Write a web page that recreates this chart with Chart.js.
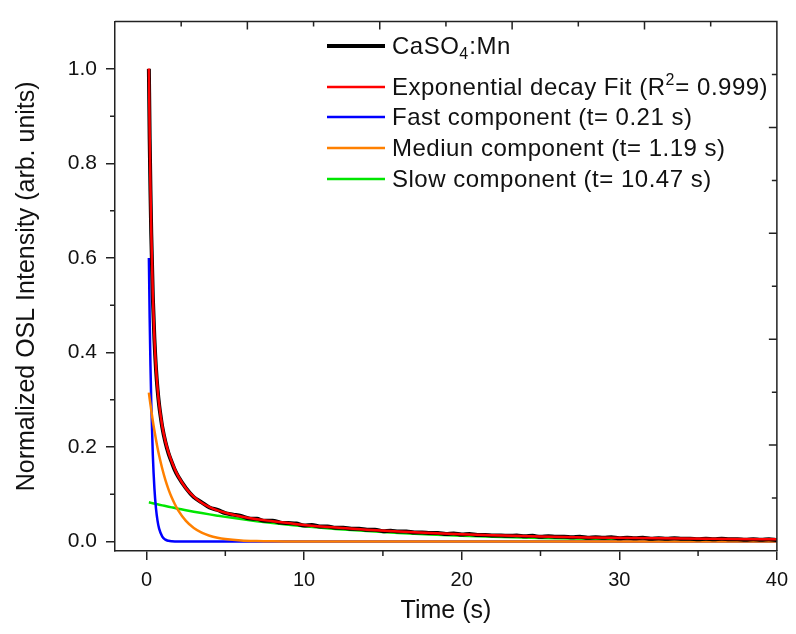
<!DOCTYPE html>
<html>
<head>
<meta charset="utf-8">
<title>CaSO4:Mn OSL decay</title>
<script src="https://cdn.jsdelivr.net/npm/chart.js@4.4.0/dist/chart.umd.min.js"></script>
<style>
  html, body { margin: 0; padding: 0; background: #fff; }
</style>
</head>
<body>
<canvas id="oslChart" width="796" height="634"></canvas>
<script>
// measured curve (normalized OSL, CaSO4:Mn)
var timeData = [0.15, 0.2, 0.25, 0.3, 0.4, 0.5, 0.6, 0.7, 0.8, 0.9, 1.0, 1.2, 1.4, 1.6, 1.8, 2.0,
  2.5, 3, 3.5, 4, 4.5, 5, 5.5, 6, 6.5, 7, 7.5, 8, 8.5, 9, 9.5, 10, 10.5, 11, 11.5, 12, 12.5, 13, 13.5, 14,
  14.5, 15, 15.5, 16, 16.5, 17, 17.5, 18, 18.5, 19, 19.5, 20, 20.5, 21, 21.5, 22, 22.5, 23, 23.5, 24, 24.5,
  25, 25.5, 26, 26.5, 27, 27.5, 28, 28.5, 29, 29.5, 30, 30.5, 31, 31.5, 32, 32.5, 33, 33.5, 34, 34.5, 35,
  35.5, 36, 36.5, 37, 37.5, 38, 38.5, 39, 39.5, 40];
var oslData = [1.0, 0.852, 0.743, 0.652, 0.518, 0.429, 0.366, 0.322, 0.289, 0.264, 0.242, 0.210, 0.186, 0.168, 0.151, 0.138,
  0.113, 0.094, 0.083, 0.072, 0.067, 0.060, 0.057, 0.054, 0.049, 0.048, 0.044, 0.044, 0.040, 0.039, 0.038, 0.034,
  0.035, 0.032, 0.032, 0.029, 0.029, 0.027, 0.027, 0.025, 0.025, 0.022, 0.023, 0.021, 0.021, 0.019, 0.019, 0.018,
  0.018, 0.016, 0.017, 0.015, 0.016, 0.014, 0.014, 0.013, 0.013, 0.012, 0.013, 0.011, 0.012, 0.010, 0.011, 0.010,
  0.010, 0.009, 0.010, 0.008, 0.009, 0.008, 0.009, 0.007, 0.008, 0.007, 0.008, 0.006, 0.007, 0.006, 0.007, 0.006,
  0.006, 0.005, 0.006, 0.005, 0.006, 0.005, 0.005, 0.004, 0.005, 0.004, 0.005, 0.003];

// fit and its three components
var timeFit = [0.15, 0.2, 0.25, 0.3, 0.4, 0.5, 0.6, 0.7, 0.8, 1.0, 1.2, 1.4, 1.6, 1.8, 2.0, 2.5, 3, 3.5, 4, 4.5, 5,
  6, 7, 8, 9, 10, 12, 14, 16, 18, 20, 22, 25, 28, 31, 34, 37, 40];
var fitValues = [1.001, 0.861, 0.748, 0.657, 0.522, 0.431, 0.369, 0.324, 0.290, 0.244, 0.212, 0.188, 0.169, 0.153, 0.139,
  0.113, 0.095, 0.082, 0.073, 0.066, 0.061, 0.053, 0.047, 0.043, 0.039, 0.035, 0.0297, 0.0251, 0.0212, 0.0181,
  0.0154, 0.0133, 0.0107, 0.0088, 0.0074, 0.0063, 0.0055, 0.0049];
var fastValues = [0.6, 0.473, 0.373, 0.294, 0.183, 0.113, 0.070, 0.0437, 0.0272, 0.0105, 0.004, 0.0016, 0.0006, 0.0002, 0.0001,
  0, 0, 0, 0, 0, 0, 0, 0, 0, 0, 0, 0, 0, 0, 0, 0, 0, 0, 0, 0, 0, 0, 0];
var mediumValues = [0.315, 0.302, 0.290, 0.278, 0.255, 0.235, 0.216, 0.198, 0.182, 0.154, 0.130, 0.110, 0.093, 0.0788, 0.0666,
  0.0437, 0.0287, 0.0189, 0.0124, 0.0082, 0.0054, 0.0023, 0.0010, 0.0004, 0.0002, 0.0001, 0, 0, 0, 0, 0, 0, 0, 0, 0, 0, 0, 0];
var slowValues = [0.083, 0.0826, 0.0822, 0.0818, 0.0810, 0.0803, 0.0795, 0.0788, 0.0780, 0.0765, 0.0751, 0.0737, 0.0723,
  0.0709, 0.0696, 0.0663, 0.0632, 0.0603, 0.0575, 0.0548, 0.0522, 0.0475, 0.0431, 0.0392, 0.0356, 0.0324, 0.0267,
  0.0221, 0.0182, 0.0151, 0.0124, 0.0103, 0.0077, 0.0058, 0.0044, 0.0033, 0.0025, 0.0019];

// legend labels (_x = subscript, ^x = superscript)
var seriesNames = ['CaSO_4:Mn', 'Exponential decay Fit (R^2= 0.999)', 'Fast component (t= 0.21 s)',
  'Mediun component (t= 1.19 s)', 'Slow component (t= 10.47 s)'];
var seriesColors = ['#000000', '#ff0000', '#0000ff', '#ff8000', '#00e600'];

var xTicks = [0, 10, 20, 30, 40];
var xMinorTicks = [5, 15, 25, 35];
var yTicks = [0, 0.2, 0.4, 0.6, 0.8, 1.0];
var yMinorTicks = [0.1, 0.3, 0.5, 0.7, 0.9];
var frameTicks = [1, 2, 3, 4, 5, 6, 7, 8, 9];

var FONT = '"Liberation Sans", Arial, Helvetica, sans-serif';
var AXIS = '#222';

function pts(xs, ys) {
  return xs.map(function (x, i) { return { x: x, y: ys[i] }; });
}

function drawRich(ctx, text, x, y, size) {
  var i = 0;
  while (i < text.length) {
    var ch = text[i];
    if ((ch === '_' || ch === '^') && i + 1 < text.length) {
      var s = text[i + 1];
      ctx.font = Math.round(size * 0.66) + 'px ' + FONT;
      var dy = ch === '_' ? size * 0.3 : -size * 0.32;
      ctx.fillText(s, x, y + dy);
      x += ctx.measureText(s).width + 0.5;
      i += 2;
      continue;
    }
    var j = i;
    while (j < text.length && text[j] !== '_' && text[j] !== '^') j++;
    var part = text.slice(i, j);
    ctx.font = size + 'px ' + FONT;
    ctx.fillText(part, x, y);
    x += ctx.measureText(part).width;
    i = j;
  }
}

var framePlugin = {
  id: 'frame',
  afterDraw: function (chart) {
    var ctx = chart.ctx, a = chart.chartArea;
    var xs = chart.scales.x, ys = chart.scales.y, xt = chart.scales.xTop, yr = chart.scales.yRight;
    ctx.save();
    ctx.strokeStyle = AXIS;
    ctx.lineWidth = 1.5;
    ctx.beginPath();
    ctx.moveTo(a.left, a.top);
    ctx.lineTo(a.right, a.top);
    ctx.lineTo(a.right, a.bottom);
    ctx.stroke();
    ctx.beginPath();
    xMinorTicks.forEach(function (v) {
      var px = xs.getPixelForValue(v);
      ctx.moveTo(px, a.bottom); ctx.lineTo(px, a.bottom + 5);
    });
    yMinorTicks.forEach(function (v) {
      var py = ys.getPixelForValue(v);
      ctx.moveTo(a.left - 5, py); ctx.lineTo(a.left, py);
    });
    frameTicks.forEach(function (k) {
      var len = k % 2 === 0 ? 8 : 5;
      var px = xt.getPixelForValue(k);
      ctx.moveTo(px, a.top); ctx.lineTo(px, a.top + len);
      var py = yr.getPixelForValue(k);
      ctx.moveTo(a.right - len, py); ctx.lineTo(a.right, py);
    });
    ctx.stroke();
    ctx.restore();
  }
};

var legendPlugin = {
  id: 'richLegend',
  afterDraw: function (chart) {
    var ctx = chart.ctx;
    var rowsY = [46, 87, 117, 148, 179];
    var widths = [4, 2.5, 2.5, 2.5, 2.5];
    ctx.save();
    ctx.textBaseline = 'middle';
    ctx.textAlign = 'left';
    ctx.letterSpacing = '0.5px';
    seriesNames.forEach(function (name, i) {
      ctx.strokeStyle = seriesColors[i];
      ctx.lineWidth = widths[i];
      ctx.beginPath();
      ctx.moveTo(327, rowsY[i]);
      ctx.lineTo(385, rowsY[i]);
      ctx.stroke();
      ctx.fillStyle = '#111';
      drawRich(ctx, name, 392, rowsY[i] + 1, 24);
    });
    ctx.restore();
  }
};

var ctx = document.getElementById('oslChart').getContext('2d');
var oslChart = new Chart(ctx, {
  type: 'line',
  data: {
    datasets: [
      { label: seriesNames[1], data: pts(timeFit, fitValues), borderColor: seriesColors[1], borderWidth: 2.5,
        cubicInterpolationMode: 'monotone', pointRadius: 0, order: 0 },
      { label: seriesNames[0], data: pts(timeData, oslData), borderColor: seriesColors[0], borderWidth: 4,
        cubicInterpolationMode: 'monotone', pointRadius: 0, order: 1 },
      { label: seriesNames[3], data: pts(timeFit, mediumValues), borderColor: seriesColors[3], borderWidth: 2.5,
        cubicInterpolationMode: 'monotone', pointRadius: 0, order: 2 },
      { label: seriesNames[2], data: pts(timeFit, fastValues), borderColor: seriesColors[2], borderWidth: 2.5,
        cubicInterpolationMode: 'monotone', pointRadius: 0, order: 3 },
      { label: seriesNames[4], data: pts(timeFit, slowValues), borderColor: seriesColors[4], borderWidth: 2.5,
        cubicInterpolationMode: 'monotone', pointRadius: 0, order: 4 }
    ]
  },
  options: {
    responsive: false,
    animation: false,
    devicePixelRatio: 1,
    layout: { padding: { top: 15, right: 16, left: 0, bottom: 0 } },
    plugins: { legend: { display: false }, tooltip: { enabled: false } },
    scales: {
      x: {
        type: 'linear', position: 'bottom', min: -2, max: 40,
        afterBuildTicks: function (s) { s.ticks = xTicks.map(function (v) { return { value: v }; }); },
        afterFit: function (s) { s.height = 83; },
        grid: { display: true, drawOnChartArea: false, drawTicks: true, tickLength: 9, color: AXIS, lineWidth: 1.5 },
        border: { display: true, color: AXIS, width: 1.5 },
        ticks: { color: '#111', padding: 8, font: { family: FONT, size: 20 }, maxRotation: 0 },
        title: { display: true, text: 'Time (s)', color: '#111', font: { family: FONT, size: 25 }, padding: { top: 0, bottom: 8 } }
      },
      y: {
        type: 'linear', position: 'left', min: -0.02, max: 1.1,
        afterBuildTicks: function (s) { s.ticks = yTicks.map(function (v) { return { value: v }; }); },
        afterFit: function (s) { s.width = 115; },
        grid: { display: true, drawOnChartArea: false, drawTicks: true, tickLength: 9, color: AXIS, lineWidth: 1.5 },
        border: { display: true, color: AXIS, width: 1.5 },
        ticks: { color: '#111', padding: 9, font: { family: FONT, size: 21 },
          callback: function (v) { return v.toFixed(1); } },
        title: { display: true, text: 'Normalized OSL Intensity (arb. units)', color: '#111',
          font: { family: FONT, size: 25 }, padding: { top: 12, bottom: 0 } }
      },
      xTop: { type: 'linear', position: 'top', min: 0, max: 10, display: false },
      yRight: { type: 'linear', position: 'right', min: 0, max: 10, display: false }
    }
  },
  plugins: [framePlugin, legendPlugin]
});
</script>
</body>
</html>
